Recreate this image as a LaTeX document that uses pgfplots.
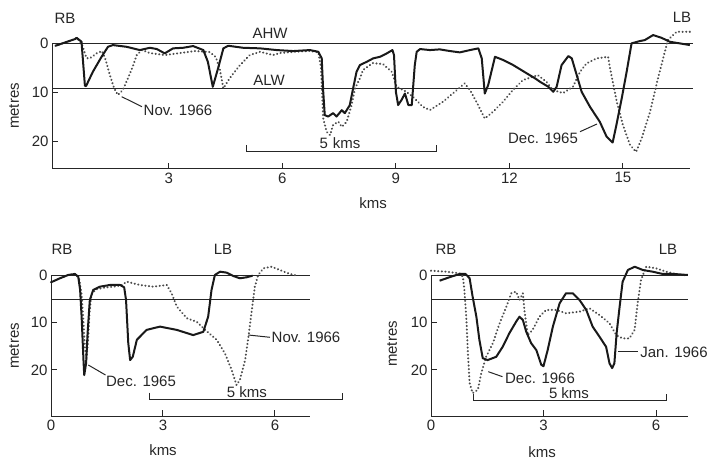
\documentclass[border=0pt]{standalone}
\usepackage{fontspec}
\setmainfont{Liberation Sans}
\usepackage{pgfplots}
\pgfplotsset{compat=1.18}
\pgfplotsset{
 prof/.style={
  scale only axis, clip=false, y dir=reverse,
  axis x line=bottom, axis y line=left,
  axis line style={-, line width=1pt, black!85},
  tick align=inside, major tick length=6pt,
  tick style={line width=1pt, black!85},
  ymin=0, ytick={0,10,20},
  tick label style={font=\fontsize{15}{17}\selectfont, text=black!85},
  /pgf/number format/assume math mode=true,
  anchor=south west,
 },
 sol/.style={line width=2pt, black!90, line join=round, mark=none},
 dot/.style={line width=2.2pt, black!70, line cap=round, dash pattern=on 0.1pt off 3.5pt, mark=none},
 rl/.style={line width=1pt, black!85, mark=none},
}
\begin{document}
\begin{tikzpicture}[font=\fontsize{15}{17}\selectfont, text=black!85]
\useasboundingbox (0,0) rectangle (710pt,461pt);
% ---------------- top panel
\begin{axis}[prof, at={(52pt,292pt)}, x=37.83pt, y=4.9pt,
  xmin=-0.09, xmax=16.77, ymax=25.7, xtick={3,6,9,12,15}]
\addplot[rl] coordinates {(-0.09,0) (16.85,0)};
\addplot[rl] coordinates {(-0.09,9.18) (16.85,9.18)};
\addplot[rl] coordinates {(5.06,20.8) (5.06,22.2) (10.08,22.2) (10.08,20.8)};
% Nov. 1966
\addplot[dot] coordinates {(0.0,0.55) (0.52,-0.82) (0.56,-1.08) (0.70,0.2) (0.82,3.06) (0.91,3.12) (1.09,2.10) (1.23,1.63) (1.33,3.47) (1.44,6.53) (1.55,9.18) (1.65,10.6) (1.78,9.6) (1.92,7.14) (2.05,4.69) (2.15,2.45) (2.29,1.43) (2.50,2.04) (2.89,2.45) (3.29,2.04) (3.69,1.63) (4.08,1.84) (4.24,2.86) (4.35,5.5) (4.44,9.24) (4.61,7.14) (4.88,4.49) (5.14,2.45) (5.41,1.78) (5.75,2.45) (5.93,2.04) (6.29,1.8) (6.73,1.6) (6.95,1.9) (7.02,5) (7.08,15.4) (7.17,18.1) (7.26,18.8) (7.34,16.7) (7.48,16.06) (7.57,17.1) (7.70,16.06) (7.83,12.65) (7.92,9.24) (8.05,7.2) (8.13,5.5) (8.39,4.08) (8.66,4.29) (8.89,5.86) (9.02,8.92) (9.28,9.94) (9.45,10.96) (9.71,13.0) (9.90,13.67) (10.24,12.0) (10.61,9.6) (10.82,8.22) (10.96,9.6) (11.13,12.0) (11.35,15.4) (11.57,14.0) (11.83,12.0) (12.09,9.6) (12.36,7.55) (12.62,6.88) (12.75,6.53) (12.98,7.9) (13.15,9.6) (13.42,10.2) (13.68,8.92) (13.87,5.86) (14.04,4.14) (14.31,3.12) (14.61,2.80) (14.66,5.1) (14.84,12.0) (15.0,16.7) (15.19,20.8) (15.35,22.2) (15.50,19.4) (15.72,14.0) (15.93,7.14) (16.11,1.78) (16.19,-0.61) (16.42,-2.3) (16.77,-2.3) (16.85,-2.0)};
% Dec. 1965
\addplot[sol] coordinates {(0.0,0.55) (0.52,-0.82) (0.56,-1.08) (0.69,-0.27) (0.78,8.71) (0.81,8.78) (0.99,5.86) (1.22,2.80) (1.39,0.76) (1.52,0.41) (1.88,0.76) (2.23,1.43) (2.50,0.96) (2.68,1.22) (2.89,2.10) (3.11,1.08) (3.38,0.96) (3.64,0.61) (3.91,1.43) (4.03,3.82) (4.16,8.92) (4.30,5.16) (4.44,1.08) (4.57,0.55) (4.96,0.96) (5.41,1.08) (5.85,1.43) (6.29,1.63) (6.73,1.43) (6.95,1.78) (7.04,3.12) (7.08,9.94) (7.12,14.7) (7.21,15.0) (7.34,14.3) (7.43,15.0) (7.57,13.7) (7.65,14.3) (7.78,12.7) (7.87,9.24) (7.96,5.86) (8.05,4.49) (8.23,3.82) (8.40,3.12) (8.58,2.80) (8.76,2.10) (8.91,1.43) (8.95,2.45) (9.00,9.94) (9.06,12.65) (9.15,11.6) (9.24,10.3) (9.33,12.65) (9.42,12.65) (9.50,4.49) (9.55,1.78) (9.64,1.22) (9.90,1.43) (10.16,1.29) (10.43,1.63) (10.69,1.90) (10.96,1.43) (11.18,1.08) (11.27,3.12) (11.35,10.3) (11.44,8.57) (11.62,2.80) (11.84,3.47) (12.10,4.49) (12.46,6.18) (12.68,7.20) (12.81,7.90) (13.03,8.92) (13.16,9.94) (13.25,8.92) (13.38,4.49) (13.56,2.65) (13.65,3.12) (13.78,6.53) (13.91,9.94) (14.13,13.0) (14.39,16.06) (14.57,19.1) (14.73,20.3) (14.83,16.7) (14.97,11.3) (15.10,5.86) (15.23,0.06) (15.45,-0.41) (15.58,-0.61) (15.80,-1.63) (16.02,-1.08) (16.24,-0.27) (16.50,0.06) (16.77,0.41)};
\end{axis}
% ---------------- bottom left
\begin{axis}[prof, at={(51pt,45pt)}, x=37.33pt, y=4.715pt,
  xmin=0, xmax=6.94, ymax=29.76, xtick={0,3,6}]
\addplot[rl] coordinates {(0,0) (6.94,0)};
\addplot[rl] coordinates {(0,5) (6.94,5)};
\addplot[rl] coordinates {(2.63,24.8) (2.63,26.2) (7.80,26.2) (7.80,24.8)};
% Nov. 1966
\addplot[dot] coordinates {(0,1.4) (0.24,0.55) (0.46,-0.15) (0.64,-0.36) (0.75,0.5) (0.82,4) (0.87,10) (0.91,15.5) (0.95,17.5) (0.99,14) (1.03,8) (1.08,4) (1.2,2.9) (1.45,2.5) (1.7,2.3) (1.9,2.0) (2.03,1.27) (2.38,1.97) (2.74,2.33) (3.10,1.97) (3.23,3.73) (3.37,6.57) (3.64,9.03) (3.90,9.76) (4.13,11.5) (4.44,13.6) (4.66,16.5) (4.84,20.0) (4.97,23.2) (5.06,22.1) (5.20,17.9) (5.29,12.9) (5.38,7.27) (5.46,2.33) (5.55,-0.15) (5.69,-1.57) (5.91,-1.9) (6.13,-1.2) (6.40,-0.36) (6.6,0)};
% Dec. 1965
\addplot[sol] coordinates {(0,1.4) (0.24,0.55) (0.46,-0.15) (0.64,-0.36) (0.73,0.21) (0.78,3.03) (0.82,8.7) (0.87,17.9) (0.89,21.1) (0.94,18.6) (0.98,12.2) (1.04,5.15) (1.13,3.03) (1.31,2.33) (1.58,1.97) (1.85,1.97) (1.96,2.46) (2.01,5.15) (2.07,14.3) (2.12,17.9) (2.19,17.2) (2.30,13.6) (2.56,11.5) (2.92,10.8) (3.37,11.5) (3.81,12.6) (4.08,11.9) (4.21,8.7) (4.30,3.03) (4.39,-0.15) (4.53,-0.85) (4.71,-0.64) (4.88,0.06) (5.06,0.55) (5.24,0.34) (5.40,0.0)};
\end{axis}
% ---------------- bottom right
\begin{axis}[prof, at={(431pt,45pt)}, x=37.5pt, y=4.715pt,
  xmin=0, xmax=6.85, ymax=29.76, xtick={0,3,6}]
\addplot[rl] coordinates {(0,0) (6.85,0)};
\addplot[rl] coordinates {(0,4.95) (6.85,4.95)};
\addplot[rl] coordinates {(1.12,25.0) (1.12,26.4) (6.27,26.4) (6.27,25.0)};
% Dec. 1966
\addplot[dot] coordinates {(0.0,-1.06) (0.40,-0.85) (0.76,-0.5) (0.85,0.21) (0.89,3.03) (0.94,8.7) (0.98,15.8) (1.03,22.8) (1.11,24.9) (1.25,24.2) (1.34,20.7) (1.47,17.2) (1.65,14.3) (1.83,10.1) (2.01,6.57) (2.14,3.73) (2.27,3.39) (2.36,5.15) (2.45,3.73) (2.49,7.27) (2.58,12.6) (2.71,11.5) (2.89,8.7) (3.07,7.27) (3.34,7.27) (3.60,7.97) (3.96,7.63) (4.23,6.92) (4.49,8.33) (4.76,10.1) (4.94,12.6) (5.11,13.3) (5.29,13.3) (5.43,11.5) (5.51,5.85) (5.60,0.91) (5.74,-1.9) (6.0,-1.57) (6.27,-0.85) (6.54,-0.36) (6.8,-0.1)};
% Jan. 1966
\addplot[sol] coordinates {(0.23,1.06) (0.49,0.34) (0.76,-0.36) (0.92,-0.36) (1.03,0.55) (1.11,4.45) (1.21,8.7) (1.29,13.6) (1.38,17.5) (1.51,17.9) (1.74,17.2) (1.91,15.1) (2.09,12.2) (2.27,9.76) (2.36,8.7) (2.45,9.4) (2.54,11.9) (2.67,14.3) (2.81,15.8) (2.94,18.9) (3.0,19.2) (3.11,15.8) (3.25,10.8) (3.43,5.85) (3.60,3.73) (3.78,3.73) (3.96,5.15) (4.14,7.27) (4.31,10.8) (4.49,12.9) (4.67,15.1) (4.76,18.6) (4.83,19.6) (4.89,18.6) (4.95,12.2) (5.03,6.57) (5.11,1.27) (5.25,-1.2) (5.43,-1.9) (5.65,-1.2) (5.91,-0.85) (6.18,-0.36) (6.45,-0.36) (6.85,-0.15)};
\end{axis}
% ---------------- labels
\node at (65pt,443pt) {RB};
\node at (682pt,444pt) {LB};
\node at (270pt,428pt) {AHW};
\node at (269pt,381pt) {ALW};
\node at (340pt,318pt) {5\,\,kms};
\node at (178pt,351pt) {Nov. 1966};
\node at (543pt,323pt) {Dec. 1965};
\node[rotate=90] at (14pt,355pt) {metres};
\node at (373pt,258pt) {kms};
\draw[line width=1pt, black!85] (121.7pt,364.3pt) -- (142pt,354.3pt);
\draw[line width=1pt, black!85] (580pt,329.3pt) -- (597pt,337pt);
\node at (62pt,212pt) {RB};
\node at (223pt,212pt) {LB};
\node at (247pt,69pt) {5 kms};
\node at (141pt,80pt) {Dec. 1965};
\node at (306pt,124pt) {Nov. 1966};
\node[rotate=90] at (14pt,115pt) {metres};
\node at (163pt,11pt) {kms};
\draw[line width=1pt, black!85] (88.3pt,96pt) -- (105.5pt,86pt);
\draw[line width=1pt, black!85] (248.3pt,126pt) -- (270pt,123.7pt);
\node at (446pt,212pt) {RB};
\node at (668pt,212pt) {LB};
\node at (569pt,68pt) {5 kms};
\node at (540pt,83pt) {Dec. 1966};
\node at (674pt,109pt) {Jan. 1966};
\node[rotate=90] at (392pt,117pt) {metres};
\node at (542pt,9pt) {kms};
\draw[line width=1pt, black!85] (488.3pt,89.3pt) -- (502.5pt,84.3pt);
\draw[line width=1pt, black!85] (618.3pt,109.3pt) -- (637.5pt,109.3pt);
\end{tikzpicture}
\end{document}
